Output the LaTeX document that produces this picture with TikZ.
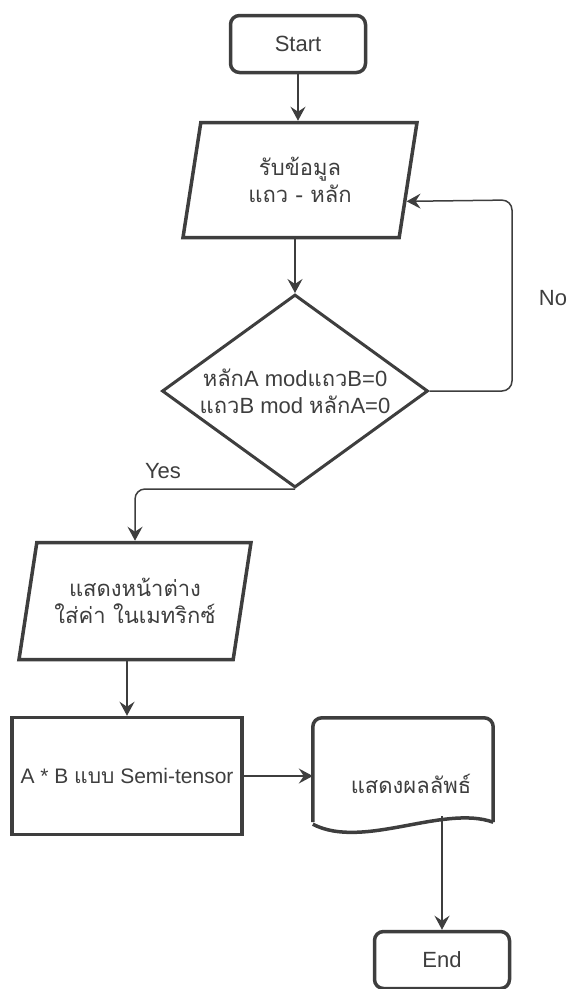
\documentclass[tikz,border=0pt]{standalone}
\usepackage{fontspec}
\setmainfont{Liberation Sans}
\newfontfamily\thaifont[Script=Thai]{Loma}
\newcommand{\thai}[1]{{\thaifont #1}}
\usepackage{tikz}
\usetikzlibrary{shapes.geometric, arrows.meta, calc}
\definecolor{inkgray}{RGB}{62,62,62}

\begin{document}
\begin{tikzpicture}[x=1pt, y=-1pt,
    every node/.style={text=inkgray, font=\fontsize{22}{27}\selectfont},
    startstop/.style={draw=inkgray, line width=3.5pt, rounded corners=9pt, minimum width=135pt, minimum height=57pt},
    iobox/.style={trapezium, trapezium left angle=68.6, trapezium right angle=111.4, trapezium stretches body,
        draw=inkgray, line width=3.5pt, minimum width=234pt, minimum height=115pt, align=center, inner sep=0pt},
    procbox/.style={draw=inkgray, line width=3.5pt, minimum width=230pt, minimum height=117pt, inner sep=1pt},
    decision/.style={diamond, draw=inkgray, line width=3pt, aspect=1.38, inner sep=0pt, minimum width=266pt, minimum height=193pt, align=center},
    line/.style={draw=inkgray, line width=1.5pt, -{Stealth[length=14pt, width=15pt, inset=5pt]}}]
    \useasboundingbox (0,0) rectangle (569,989);

    % Start / End
    \node[startstop] (start) at (298,44) {Start};
    \node[startstop] (finish) at (442,960) {End};

    % Input rows and columns
    \node[iobox] (readsize) at (300,180) {\thai{รับข้อมูล}\\\thai{แถว - หลัก}};

    % Check
    \node[decision] (check) at (295,391) {\thai{หลัก}A mod\thai{แถว}B=0\\\thai{แถว}B mod \thai{หลัก}A=0};

    % Matrix window
    \node[iobox, minimum width=232pt, minimum height=117pt] (window) at (135,601) {\thai{แสดงหน้าต่าง}\\\thai{ใส่ค่า ในเมทริกซ์}};

    % Product
    \node[procbox, font=\fontsize{21}{27}\selectfont] (product) at (127,776) {A * B \thai{แบบ} Semi-tensor};

    % Result (document)
    \node[minimum width=180pt, minimum height=104pt] (result) at (403,770) {};
    \node (resulttext) at ($(result.center)+(8,14)$) {\thai{แสดงผลลัพธ์}};
    \draw[inkgray, line width=3.5pt, rounded corners=9pt] (result.south west) -- (result.north west) -- (result.north east) -- (result.south east);
    \draw[inkgray, line width=3.5pt] (result.south east) .. controls ($(result.south east)+(-50,-18)$) and ($(result.south west)+(50,28)$) .. ($(result.south west)+(0,2)$);
    \coordinate (resultout) at ($(result.south -| finish.north)+(0,-6)$);

    % Connectors
    \draw[line] (start.south) -- (start.south |- readsize.north);
    \draw[line] (readsize.south -| check.north) -- (check.north);
    \coordinate (noturn) at (512,200);
    \coordinate (noin) at ($(readsize.top right corner)!.68!(readsize.bottom right corner)$);
    \draw[line, rounded corners=10pt] (check.east) -| (noturn) -- (noin);
    \draw[line, rounded corners=10pt] (check.south) -| (window.north);
    \draw[line] (window.south -| product.north) -- (product.north);
    \draw[line] (product.east) -- (product.east -| result.west);
    \draw[line] (resultout) -- (finish.north);

    % Labels
    \node (nolabel) at (553,298) {No};
    \node (yeslabel) at (163,471) {Yes};
\end{tikzpicture}
\end{document}
